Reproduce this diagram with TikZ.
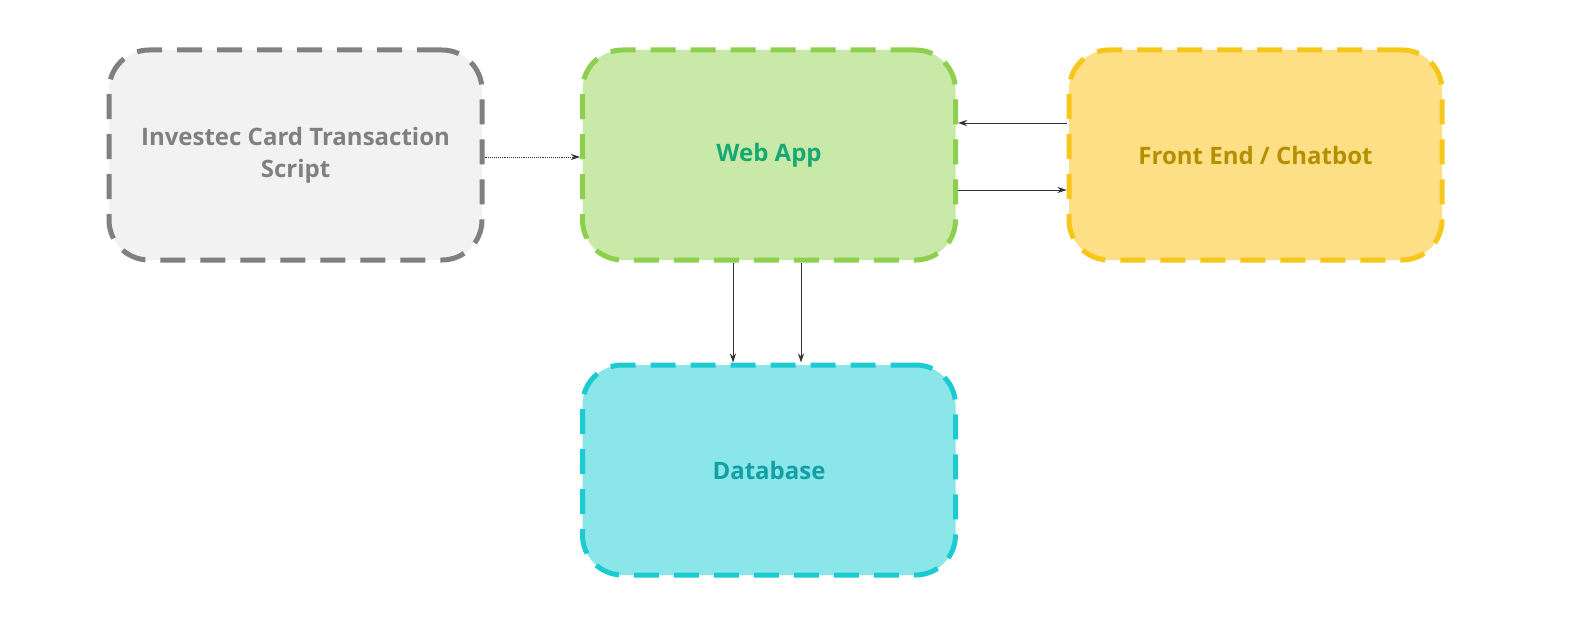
\documentclass[tikz,border=0pt]{standalone}
\usepackage{fontspec}
\setmainfont{Open Sans}
\usetikzlibrary{arrows.meta}
\definecolor{grayfill}{HTML}{F2F2F2}
\definecolor{graydraw}{HTML}{808080}
\definecolor{greenfill}{HTML}{C9E9A9}
\definecolor{greendraw}{HTML}{8CD04E}
\definecolor{greentext}{HTML}{16A974}
\definecolor{yellowfill}{HTML}{FDE085}
\definecolor{yellowdraw}{HTML}{F6C619}
\definecolor{yellowtext}{HTML}{B48F00}
\definecolor{cyanfill}{HTML}{8AE6E8}
\definecolor{cyandraw}{HTML}{1CCBD1}
\definecolor{cyantext}{HTML}{12A0A6}
\definecolor{arrowcol}{HTML}{333333}
\tikzset{
  box/.style={rectangle, rounded corners=40pt, minimum width=373pt, minimum height=210pt,
    line width=5pt, dash pattern=on 25pt off 15pt, align=center,
    font=\fontsize{24pt}{32pt}\selectfont\bfseries},
  conn/.style={draw=arrowcol, line width=0.9pt, -{Stealth[length=9pt,width=6pt]}},
}
\begin{document}
\begin{tikzpicture}[x=1pt,y=-1pt]
\useasboundingbox (0,0) rectangle (1595,626);
\node[box, fill=grayfill, draw=graydraw, text=graydraw] (inv) at (295.5,155) {Investec Card Transaction\\Script};
\node[box, fill=greenfill, draw=greendraw, text=greentext] (web) at (769,155) {Web App};
\node[box, fill=yellowfill, draw=yellowdraw, text=yellowtext] (front) at (1255.5,155) {Front End / Chatbot};
\node[box, fill=cyanfill, draw=cyandraw, text=cyantext] (db) at (769,470) {Database};
\draw[conn, densely dotted] (inv.east |- 0,157) -- (web.west |- 0,157);
\draw[conn] (front.west |- 0,123) -- (web.east |- 0,123);
\draw[conn] (web.east |- 0,190) -- (front.west |- 0,190);
\draw[conn] (web.south -| 733,0) -- (db.north -| 733,0);
\draw[conn] (web.south -| 801,0) -- (db.north -| 801,0);
\end{tikzpicture}
\end{document}
